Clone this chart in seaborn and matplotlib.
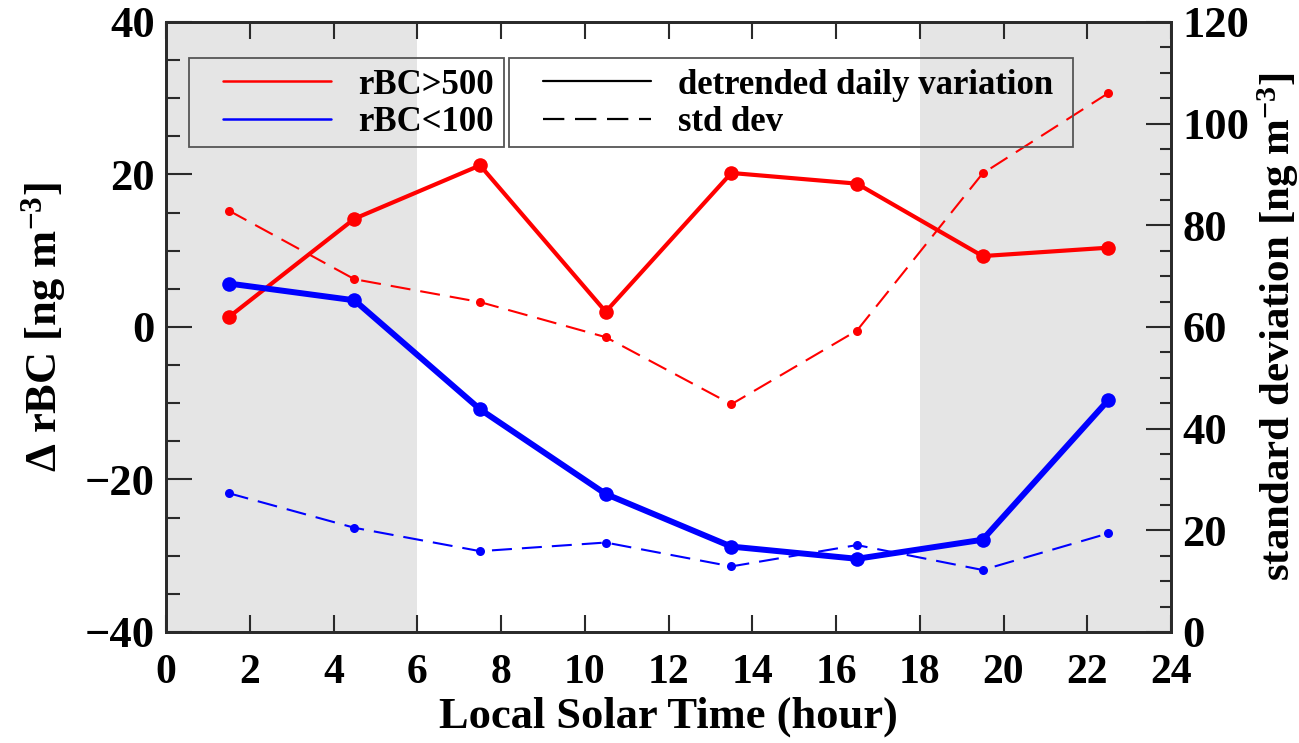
import numpy as np
import pandas as pd
import seaborn as sns
import matplotlib
matplotlib.use("Agg")
import matplotlib.pyplot as plt
from matplotlib.patches import Rectangle
from matplotlib.lines import Line2D

# ---- data ----
hours = [1.5, 4.5, 7.5, 10.5, 13.5, 16.5, 19.5, 22.5]
red_variation = [1.3, 14.2, 21.2, 2.0, 20.2, 18.8, 9.3, 10.4]        # rBC>500, left axis
blue_variation = [5.7, 3.5, -10.8, -21.9, -28.8, -30.4, -27.9, -9.6]  # rBC<100, left axis
red_std = [82.9, 69.4, 64.9, 58.0, 44.8, 59.3, 90.2, 106.0]           # rBC>500, right axis
blue_std = [27.3, 20.5, 15.9, 17.6, 12.9, 17.1, 12.2, 19.4]           # rBC<100, right axis
night_spans = [(0, 6), (18, 24)]
x_ticks = list(range(0, 25, 2))
left_ticks = [-40, -20, 0, 20, 40]
right_ticks = [0, 20, 40, 60, 80, 100, 120]
series_labels = ["rBC>500", "rBC<100"]
style_labels = ["detrended daily variation", "std dev"]

sns.set_theme(style="ticks")
plt.rcParams["font.family"] = ["Liberation Serif", "DejaVu Serif"]
plt.rcParams["font.weight"] = "bold"
plt.rcParams["mathtext.fontset"] = "custom"
plt.rcParams["mathtext.rm"] = "Liberation Serif:bold"
plt.rcParams["mathtext.it"] = "Liberation Serif:bold"
plt.rcParams["mathtext.bf"] = "Liberation Serif:bold"
plt.rcParams["mathtext.default"] = "rm"
for k in ("text.color", "axes.labelcolor", "xtick.labelcolor", "ytick.labelcolor"):
    plt.rcParams[k] = "black"

RED = "#ff0000"
BLUE = "#0000ff"
SPINE = "#2a2a2a"

fig = plt.figure(figsize=(12.99, 7.43), dpi=100)
ax = fig.add_axes([0.1278, 0.1494, 0.7737, 0.8210])
ax2 = ax.twinx()

# night shading on the lower (twin) axes so every line stays above it
for a, b in night_spans:
    ax2.axvspan(a, b, color="#e5e5e5", lw=0, zorder=0)

df = pd.DataFrame({"hour": hours, "red_var": red_variation, "blue_var": blue_variation,
                   "red_std": red_std, "blue_std": blue_std})

dash = (0, (9.6, 4.8))
sns.lineplot(data=df, x="hour", y="red_std", ax=ax2, color=RED, lw=1.5, linestyle=dash,
             marker="o", markersize=6.5, markeredgewidth=0, zorder=3)
sns.lineplot(data=df, x="hour", y="blue_std", ax=ax2, color=BLUE, lw=1.5, linestyle=dash,
             marker="o", markersize=6.5, markeredgewidth=0, zorder=3)
sns.lineplot(data=df, x="hour", y="red_var", ax=ax, color=RED, lw=3.0,
             marker="o", markersize=10.5, markeredgewidth=0, zorder=4)
sns.lineplot(data=df, x="hour", y="blue_var", ax=ax, color=BLUE, lw=4.3,
             marker="o", markersize=10.5, markeredgewidth=0, zorder=4)

ax.set_zorder(2)
ax.patch.set_visible(False)
ax2.set_zorder(1)

ax.set_xlim(0, 24)
ax.set_ylim(-40, 40)
ax2.set_ylim(0, 120)
ax.set_xticks(x_ticks)
ax.set_yticks(left_ticks)
ax.set_yticks(np.arange(-40, 41, 5), minor=True)
ax2.set_yticks(right_ticks)
ax2.set_yticks(np.arange(0, 121, 5), minor=True)
ax.set_yticklabels([f"{v}".replace("-", "\u2212") for v in left_ticks])

ax.tick_params(axis="x", which="major", direction="in", length=12, width=1.5, color=SPINE,
               top=True, bottom=True, labelsize=30, pad=16)
ax.tick_params(axis="y", which="major", direction="in", length=19, width=1.5, color=SPINE,
               left=True, right=False, labelsize=32, pad=8)
ax.tick_params(axis="y", which="minor", direction="in", length=10, width=1.5, color=SPINE,
               left=True, right=False)
ax2.tick_params(axis="y", which="major", direction="in", length=18, width=1.5, color=SPINE,
                right=True, left=False, labelsize=32, pad=8)
ax2.tick_params(axis="y", which="minor", direction="in", length=8, width=1.5, color=SPINE,
                right=True, left=False)
for lab in ax.get_xticklabels() + ax.get_yticklabels() + ax2.get_yticklabels():
    lab.set_fontweight("bold")

for a in (ax, ax2):
    for s in a.spines.values():
        s.set_color(SPINE)
        s.set_linewidth(2.0)
        s.set_visible(True)

ax.set_xlabel("Local Solar Time (hour)", fontsize=32, fontweight="bold", labelpad=3)
ax.set_ylabel("\u0394 rBC [ng m$^{-3}$]", fontsize=32, fontweight="bold", labelpad=12)
ax2.set_ylabel("standard deviation [ng m$^{-3}$]", fontsize=31, fontweight="bold", labelpad=4)

# ---- legend boxes ----
box_y0, box_h = 0.7956, 0.1459
ax.add_patch(Rectangle((0.0229, box_y0), 0.3134, box_h, transform=ax.transAxes,
                       fill=False, edgecolor="#555555", lw=1.3, zorder=5))
ax.add_patch(Rectangle((0.3413, box_y0), 0.5612, box_h, transform=ax.transAxes,
                       fill=False, edgecolor="#555555", lw=1.3, zorder=5))

leg_fs = 25
h1 = [Line2D([], [], color=RED, lw=1.8), Line2D([], [], color=BLUE, lw=1.8)]
leg1 = ax.legend(h1, series_labels, loc="upper left", bbox_to_anchor=(0.0567, 0.9236),
                 frameon=False, handlelength=3.1, handletextpad=0.78,
                 labelspacing=0.12, borderpad=0, borderaxespad=0,
                 prop={"weight": "bold", "size": leg_fs})
ax.add_artist(leg1)
h2 = [Line2D([], [], color="black", lw=1.6),
      Line2D([], [], color="black", lw=1.6, linestyle=dash)]
leg2 = ax.legend(h2, style_labels, loc="upper left", bbox_to_anchor=(0.375, 0.9236),
                 frameon=False, handlelength=3.1, handletextpad=0.78,
                 labelspacing=0.12, borderpad=0, borderaxespad=0,
                 prop={"weight": "bold", "size": leg_fs})
leg1.set_zorder(6)
leg2.set_zorder(6)

fig.savefig("out.png", dpi=100)
